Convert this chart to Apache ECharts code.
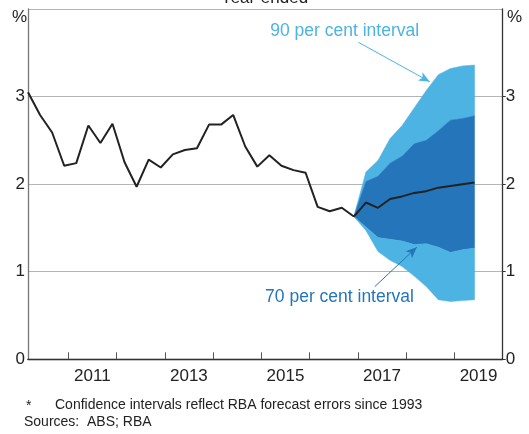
<!DOCTYPE html>
<html>
<head>
<meta charset="utf-8">
<script src="https://cdn.jsdelivr.net/npm/echarts@6/dist/echarts.min.js"></script>
<style>
  html, body { margin: 0; padding: 0; background: #fff; }
  #chart { width: 529px; height: 434px; }
</style>
</head>
<body>
<div id="chart"></div>
<script>
'use strict';

// quarterly, year-ended trimmed mean inflation (%), Mar 2010 .. Dec 2016
const history = [3.05, 2.79, 2.59, 2.21, 2.24, 2.67, 2.47, 2.69, 2.25, 1.97,
    2.28, 2.19, 2.34, 2.39, 2.41, 2.68, 2.68, 2.79, 2.43, 2.20,
    2.33, 2.21, 2.16, 2.13, 1.74, 1.69, 1.73, 1.63];

// forecast, Dec 2016 .. Jun 2019
const central = [1.63, 1.79, 1.73, 1.83, 1.86, 1.90, 1.92, 1.96, 1.98, 2.00, 2.02];
const upper90 = [1.63, 2.14, 2.27, 2.52, 2.67, 2.87, 3.07, 3.25, 3.32, 3.35, 3.36];
const upper70 = [1.63, 2.03, 2.09, 2.24, 2.32, 2.46, 2.50, 2.61, 2.73, 2.75, 2.78];
const lower70 = [1.63, 1.51, 1.39, 1.37, 1.35, 1.31, 1.32, 1.28, 1.22, 1.25, 1.27];
const lower90 = [1.63, 1.47, 1.23, 1.13, 1.06, 0.95, 0.83, 0.68, 0.66, 0.67, 0.68];

const tickYears = [2011, 2012, 2013, 2014, 2015, 2016, 2017, 2018, 2019];
const labelYears = [2011, 2013, 2015, 2017, 2019];

const start = 2010 + 2 / 12;
const quarter = k => start + k * 0.25;
const forecastStart = history.length - 1;

const histData = history.map((v, k) => [quarter(k), v]);
const fanX = central.map((v, k) => quarter(forecastStart + k));
const pairs = arr => arr.map((v, k) => [fanX[k], v]);

const light = '#4db3e2';
const dark = '#2575bb';
const ink = '#222';
const font = 'Arial, "Liberation Sans", sans-serif';

const chart = echarts.init(document.getElementById('chart'), null, { renderer: 'canvas' });

// filled polygon between two bounds, drawn through the axes
function band(name, top, bottom, color) {
    return {
        name: name,
        type: 'custom',
        silent: true,
        z: 1,
        data: pairs(top),
        renderItem: (params, api) => {
            if (params.dataIndex !== 0) return;
            const pts = top.map((v, k) => api.coord([fanX[k], v]));
            for (let k = bottom.length - 1; k >= 0; k--) {
                pts.push(api.coord([fanX[k], bottom[k]]));
            }
            return {
                type: 'polygon',
                shape: { points: pts },
                style: { fill: color, stroke: color, lineWidth: 0.5 }
            };
        }
    };
}

const option = {
    animation: false,
    grid: { left: 28, right: 26.3, top: 9, bottom: 74.7, show: false },
    xAxis: [{
        type: 'value',
        min: start,
        max: 2020,
        position: 'bottom',
        axisLine: { show: true, lineStyle: { color: '#111', width: 1.3 } },
        axisTick: { show: true, inside: true, length: 7, customValues: tickYears, lineStyle: { color: '#555' } },
        axisLabel: {
            customValues: labelYears.map(y => y + 0.5),
            formatter: v => String(Math.floor(v)),
            color: ink, fontSize: 17, fontFamily: font, margin: 9
        },
        splitLine: { show: false }
    }, {
        type: 'value',
        min: start,
        max: 2020,
        position: 'top',
        axisLine: { show: true, lineStyle: { color: '#333', width: 1 } },
        axisTick: { show: false },
        axisLabel: { show: false },
        splitLine: { show: false }
    }],
    yAxis: [{
        type: 'value',
        min: 0,
        max: 4,
        interval: 1,
        position: 'left',
        axisLine: { show: true, lineStyle: { color: '#777', width: 1.3 } },
        axisTick: { show: false },
        axisLabel: {
            formatter: v => v === 4 ? '' : String(v),
            color: ink, fontSize: 17, fontFamily: font, margin: 3
        },
        splitLine: { show: true, lineStyle: { color: '#b4b4b4', width: 1 } }
    }, {
        type: 'value',
        min: 0,
        max: 4,
        interval: 1,
        position: 'right',
        axisLine: { show: true, lineStyle: { color: '#333', width: 1.3 } },
        axisTick: { show: true, length: 3, customValues: [0, 1, 2, 3], lineStyle: { color: '#333' } },
        axisLabel: {
            formatter: v => v === 4 ? '' : String(v),
            color: ink, fontSize: 17, fontFamily: font, margin: 3
        },
        splitLine: { show: false }
    }],
    series: [
        band('90 upper', upper90, upper70, light),
        band('70', upper70, lower70, dark),
        band('90 lower', lower70, lower90, light),
        {
            name: 'history',
            type: 'line',
            data: histData,
            symbol: 'none',
            lineStyle: { color: ink, width: 2 },
            z: 5
        },
        {
            name: 'central',
            type: 'line',
            data: pairs(central),
            symbol: 'none',
            lineStyle: { color: ink, width: 2 },
            z: 5,
            markLine: {
                silent: true,
                symbol: ['none', 'arrow'],
                symbolSize: [7, 11],
                label: { show: false },
                data: [
                    [{ coord: [2017.01, 3.62], lineStyle: { color: light, width: 1, type: 'solid' } },
                     { coord: [2018.49, 3.17] }],
                    [{ coord: [2017.35, 0.83], lineStyle: { color: dark, width: 1, type: 'solid' } },
                     { coord: [2018.22, 1.28] }]
                ]
            }
        }
    ],
    graphic: [
        { type: 'text', left: 'center', top: -10, style: { text: 'Year-ended', fill: ink, font: '17px ' + font } },
        { type: 'text', x: 12, y: 9, style: { text: '%', fill: ink, font: '17px ' + font } },
        { type: 'text', x: 507, y: 9, style: { text: '%', fill: ink, font: '17px ' + font } },
        { type: 'text', x: 344.7, y: 31.4, style: { text: '90 per cent interval', fill: light, font: '17.5px ' + font, align: 'center', verticalAlign: 'middle' } },
        { type: 'text', x: 339.5, y: 296.7, style: { text: '70 per cent interval', fill: dark, font: '17.5px ' + font, align: 'center', verticalAlign: 'middle' } },
        { type: 'text', x: 26, y: 399, style: { text: '*', fill: ink, font: '14px ' + font } },
        { type: 'text', x: 55, y: 398, style: { text: 'Confidence intervals reflect RBA forecast errors since 1993', fill: ink, font: '14px ' + font } },
        { type: 'text', x: 24, y: 415, style: { text: 'Sources:  ABS; RBA', fill: ink, font: '14px ' + font } }
    ]
};

chart.setOption(option);
</script>
</body>
</html>
